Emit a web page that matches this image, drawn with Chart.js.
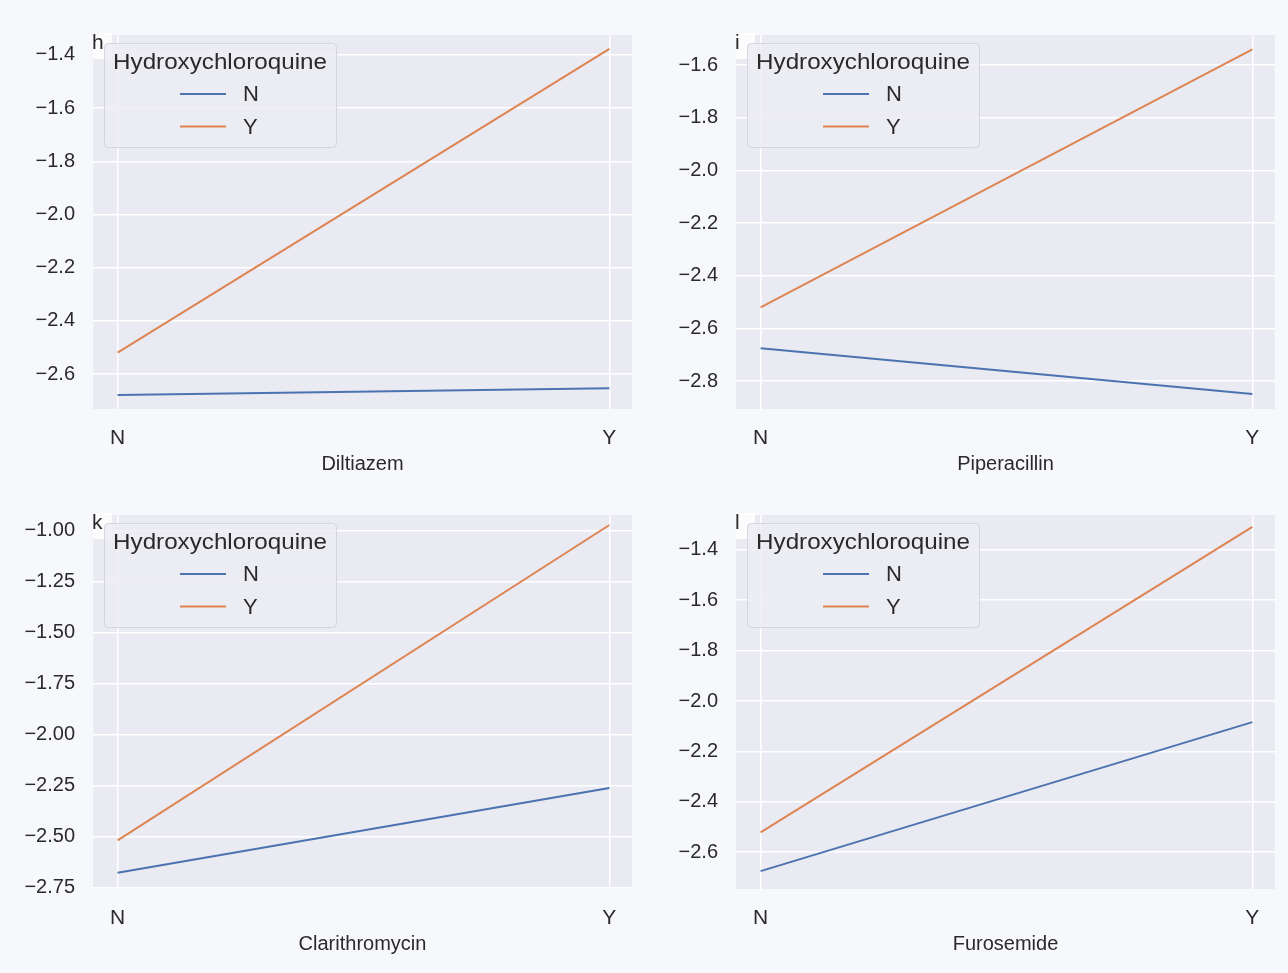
<!DOCTYPE html>
<html>
<head>
<meta charset="utf-8">
<script src="https://cdn.jsdelivr.net/npm/chart.js@4.4.0/dist/chart.umd.min.js"></script>
<style>
  body { margin: 0; background: #f7f8fc; width: 1288px; height: 973px; overflow: hidden; position: relative; }
  .panel { position: absolute; width: 644px; height: 490px; }
  canvas { display: block; }
</style>
</head>
<body>
<div class="panel" style="left:0;top:0"><canvas id="chart-h" width="644" height="490"></canvas></div>
<div class="panel" style="left:643px;top:0"><canvas id="chart-i" width="644" height="490"></canvas></div>
<div class="panel" style="left:0;top:480px"><canvas id="chart-k" width="644" height="490"></canvas></div>
<div class="panel" style="left:643px;top:480px"><canvas id="chart-l" width="644" height="490"></canvas></div>
<script>
// categories on the x axis and the hue levels
const categories = ['N', 'Y'];
const hueTitle = 'Hydroxychloroquine';
const hueNames = ['N', 'Y'];

// h - Diltiazem
const diltiazem_N = [-2.678, -2.653];
const diltiazem_Y = [-2.519, -1.377];
const diltiazem_ticks = [-2.6, -2.4, -2.2, -2.0, -1.8, -1.6, -1.4];
const diltiazem_range = [-2.731, -1.325];

// i - Piperacillin
const piperacillin_N = [-2.675, -2.849];
const piperacillin_Y = [-2.520, -1.541];
const piperacillin_ticks = [-2.8, -2.6, -2.4, -2.2, -2.0, -1.8, -1.6];
const piperacillin_range = [-2.906, -1.486];

// k - Clarithromycin
const clarithromycin_N = [-2.678, -2.263];
const clarithromycin_Y = [-2.520, -0.974];
const clarithromycin_ticks = [-2.75, -2.5, -2.25, -2.0, -1.75, -1.5, -1.25, -1.0];
const clarithromycin_range = [-2.758, -0.925];

// l - Furosemide
const furosemide_N = [-2.675, -2.084];
const furosemide_Y = [-2.521, -1.309];
const furosemide_ticks = [-2.6, -2.4, -2.2, -2.0, -1.8, -1.6, -1.4];
const furosemide_range = [-2.746, -1.262];

const blue = '#4c72b0';
const orange = '#dd8452';
const textColor = '#2a2a2a';
const fontFamily = '"Liberation Sans", Arial, sans-serif';

// grey plot background like seaborn darkgrid
const plotBg = {
  id: 'plotBg',
  beforeDraw(chart) {
    const ca = chart.chartArea;
    const ctx = chart.ctx;
    ctx.save();
    ctx.fillStyle = '#eaeaf2';
    ctx.fillRect(ca.left, ca.top, ca.right - ca.left, ca.bottom - ca.top);
    ctx.restore();
  }
};

// panel letter and the legend box inside the plot
const insideLegend = {
  id: 'insideLegend',
  afterDatasetsDraw(chart, args, opts) {
    const ca = chart.chartArea;
    const ctx = chart.ctx;
    ctx.save();

    // panel letter
    ctx.fillStyle = 'rgba(255,255,255,0.85)';
    ctx.fillRect(ca.left, ca.top - 2, 19, 26);
    ctx.fillStyle = textColor;
    ctx.font = '21px ' + fontFamily;
    ctx.textAlign = 'left';
    ctx.textBaseline = 'middle';
    ctx.fillText(opts.letter, ca.left - 1, ca.top + 8);

    // legend box
    const bx = ca.left + 11, by = ca.top + 8, bw = 232, bh = 104;
    ctx.beginPath();
    ctx.roundRect(bx + 0.5, by + 0.5, bw, bh, 4);
    ctx.fillStyle = 'rgba(236,236,243,0.85)';
    ctx.fill();
    ctx.strokeStyle = '#d4d5dd';
    ctx.lineWidth = 1;
    ctx.stroke();

    ctx.fillStyle = textColor;
    ctx.font = '22px ' + fontFamily;
    ctx.textAlign = 'center';
    ctx.save();
    ctx.translate(bx + bw / 2, by + 20);
    ctx.scale(1.1, 1);
    ctx.fillText(hueTitle, 0, 0);
    ctx.restore();

    ctx.textAlign = 'left';
    chart.data.datasets.forEach((ds, i) => {
      const y = by + 51 + i * 32.5;
      ctx.strokeStyle = ds.borderColor;
      ctx.lineWidth = 2;
      ctx.beginPath();
      ctx.moveTo(bx + 76, y);
      ctx.lineTo(bx + 122, y);
      ctx.stroke();
      ctx.fillText(ds.label, bx + 139, y + 1);
    });
    ctx.restore();
  }
};

function makeChart(id, letter, xTitle, valsN, valsY, yTicks, yRange, decimals) {
  const toPoints = vals => categories.map((c, i) => ({ x: i, y: vals[i] }));
  new Chart(document.getElementById(id), {
    type: 'line',
    data: {
      datasets: [
        { label: hueNames[0], data: toPoints(valsN), borderColor: blue, borderWidth: 2, pointRadius: 0 },
        { label: hueNames[1], data: toPoints(valsY), borderColor: orange, borderWidth: 2, pointRadius: 0 }
      ]
    },
    options: {
      responsive: false,
      animation: false,
      devicePixelRatio: 1,
      layout: { padding: { top: 35, right: 12, left: 0, bottom: 0 } },
      plugins: {
        legend: { display: false },
        tooltip: { enabled: false },
        insideLegend: { letter: letter }
      },
      scales: {
        x: {
          type: 'linear',
          min: -0.05,
          max: 1.046,
          afterBuildTicks: axis => { axis.ticks = categories.map((c, i) => ({ value: i })); },
          afterFit: axis => { axis.height = 81; },
          ticks: {
            callback: v => categories[v],
            color: textColor,
            font: { family: fontFamily, size: 21 },
            padding: 17,
            maxRotation: 0
          },
          grid: { color: '#ffffff', lineWidth: 1.5, drawTicks: false },
          border: { display: false },
          title: {
            display: true,
            text: xTitle,
            color: textColor,
            font: { family: fontFamily, size: 20 },
            padding: { top: 0, bottom: 14 }
          }
        },
        y: {
          min: yRange[0],
          max: yRange[1],
          afterBuildTicks: axis => { axis.ticks = yTicks.map(v => ({ value: v })); },
          afterFit: axis => { axis.width = 93; },
          ticks: {
            callback: v => (v < 0 ? '\u2212' : '') + Math.abs(v).toFixed(decimals),
            color: textColor,
            font: { family: fontFamily, size: 20 },
            padding: 18
          },
          grid: { color: '#ffffff', lineWidth: 1.5, drawTicks: false },
          border: { display: false }
        }
      }
    },
    plugins: [plotBg, insideLegend]
  });
}

makeChart('chart-h', 'h', 'Diltiazem', diltiazem_N, diltiazem_Y, diltiazem_ticks, diltiazem_range, 1);
makeChart('chart-i', 'i', 'Piperacillin', piperacillin_N, piperacillin_Y, piperacillin_ticks, piperacillin_range, 1);
makeChart('chart-k', 'k', 'Clarithromycin', clarithromycin_N, clarithromycin_Y, clarithromycin_ticks, clarithromycin_range, 2);
makeChart('chart-l', 'l', 'Furosemide', furosemide_N, furosemide_Y, furosemide_ticks, furosemide_range, 1);
</script>
</body>
</html>
